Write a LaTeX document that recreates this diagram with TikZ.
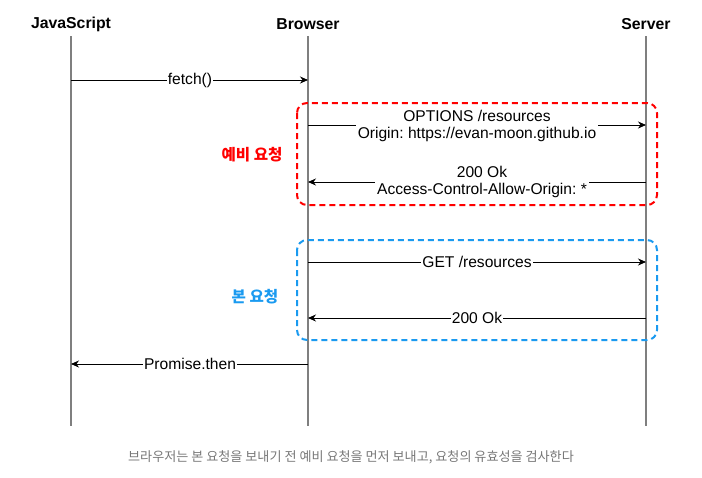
\documentclass[tikz,border=0pt]{standalone}
\usepackage{fontspec}
\setmainfont{Liberation Sans}
\newfontfamily\krfont{Noto Sans CJK KR}
\usetikzlibrary{arrows.meta}
\definecolor{lifegray}{HTML}{7F7F7F}
\definecolor{prered}{HTML}{FF0000}
\definecolor{mainblue}{HTML}{1A9AF0}
\definecolor{capgray}{HTML}{777777}
\frenchspacing
\begin{document}
\frenchspacing
\begin{tikzpicture}[x=1pt,y=-1pt,
  actor/.style={font=\fontsize{15.8}{18}\selectfont\bfseries, inner sep=0pt},
  life/.style={draw=lifegray, line width=1.3pt},
  msg/.style={draw=black, line width=0.8pt, -{Stealth[length=8pt,width=7pt]}},
  lbl/.style={fill=white, inner sep=1pt, font=\fontsize{15.6}{17.5}\selectfont, align=center},
  grp/.style={dashed, dash pattern=on 6pt off 4pt, line width=2pt, rounded corners=10pt},
  grplbl/.style={font=\krfont\fontsize{15.6}{17}\selectfont\bfseries, inner sep=0pt}
]
\useasboundingbox (0,0) rectangle (702,477);
% actors
\node[actor] (js) at (71,24) {JavaScript};
\node[actor] (br) at (308,24) {Browser};
\node[actor] (sv) at (646,24) {Server};
% lifeline ends
\coordinate (jsTop) at (71,36);
\coordinate (jsBot) at (71,426);
\coordinate (brTop) at (308,36);
\coordinate (brBot) at (308,426);
\coordinate (svTop) at (646,36);
\coordinate (svBot) at (646,426);
\draw[life] (jsTop) -- (jsBot);
\draw[life] (brTop) -- (brBot);
\draw[life] (svTop) -- (svBot);
% group boxes
\draw[grp, draw=prered] (297,103) rectangle (657,205);
\draw[grp, draw=mainblue] (297,240) rectangle (657,340);
\node[grplbl, text=prered] (pre) at (252,155) {예비 요청};
\node[grplbl, text=mainblue] (main) at (255,297) {본 요청};
% message anchor points
\coordinate (m1a) at (71,80);  \coordinate (m1b) at (308,80);
\coordinate (m2a) at (308,125); \coordinate (m2b) at (646,125);
\coordinate (m3a) at (646,182); \coordinate (m3b) at (308,182);
\coordinate (m4a) at (308,262); \coordinate (m4b) at (646,262);
\coordinate (m5a) at (646,318); \coordinate (m5b) at (308,318);
\coordinate (m6a) at (308,364); \coordinate (m6b) at (71,364);
\draw[msg] (m1a) -- (m1b);
\node[lbl] (l1) at (190,80) {fetch()};
\draw[msg] (m2a) -- (m2b);
\node[lbl, inner sep=2pt] (l2) at (477,126) {OPTIONS /resources\\Origin: https://evan-moon.github.io};
\draw[msg] (m3a) -- (m3b);
\node[lbl, inner sep=2pt] (l3) at (482,182) {200 Ok\\Access-Control-Allow-Origin: *};
\draw[msg] (m4a) -- (m4b);
\node[lbl] (l4) at (477,262) {GET /resources};
\draw[msg] (m5a) -- (m5b);
\node[lbl] (l5) at (477,318) {200 Ok};
\draw[msg] (m6a) -- (m6b);
\node[lbl] (l6) at (190,364) {Promise.then};
% caption
\node[font=\krfont\fontsize{13.1}{15}\selectfont, text=capgray] (cap) at (351,457) {브라우저는 본 요청을 보내기 전 예비 요청을 먼저 보내고, 요청의 유효성을 검사한다};
\end{tikzpicture}
\end{document}
